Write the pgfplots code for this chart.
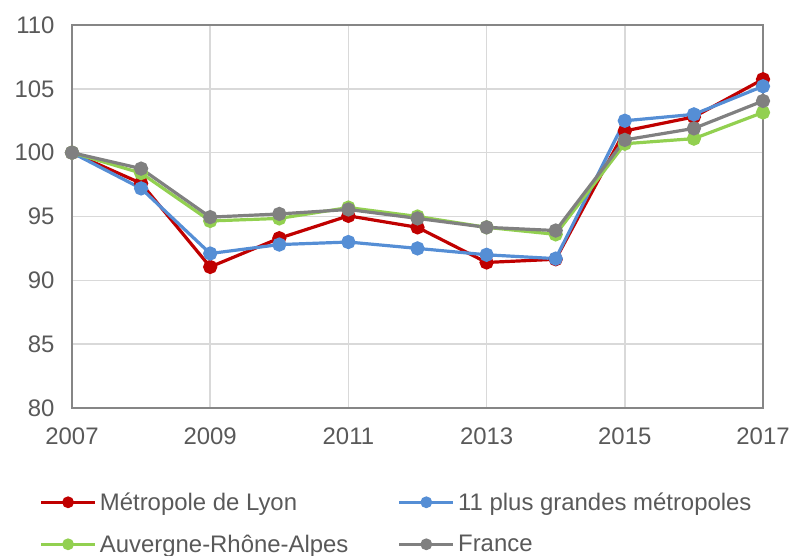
\documentclass[border=0pt]{standalone}
\usepackage{fontspec}
\setmainfont{Liberation Sans}
\usepackage{pgfplots}
\pgfplotsset{compat=1.18}
\definecolor{cred}{HTML}{C00000}
\definecolor{cblue}{HTML}{558ED5}
\definecolor{cgreen}{HTML}{92D050}
\definecolor{cgray}{HTML}{808080}
\definecolor{txt}{HTML}{595959}
\definecolor{gridc}{HTML}{D9D9D9}
\definecolor{axc}{HTML}{868686}
\begin{document}
\begin{tikzpicture}
\path[use as bounding box] (0,0) rectangle (793bp,556bp);
\begin{axis}[
  at={(72bp,148bp)}, anchor=south west,
  scale only axis, width=691bp, height=383bp,
  xmin=2007, xmax=2017, ymin=80, ymax=110,
  xtick={2007,2009,...,2017}, ytick={80,85,...,110},
  grid=major,
  major grid style={line width=1.5bp, draw=gridc},
  axis line style={line width=1.5bp, draw=axc},
  major tick length=0pt,
  tick label style={font=\fontsize{24}{29}\selectfont, text=txt},
  /pgf/number format/assume math mode=true,
  /pgf/number format/1000 sep={},
  xticklabel style={yshift=-16bp},
  yticklabel style={xshift=-14bp},
  legend columns=2,
  legend cell align=left,
  legend style={at={(-0.047,-0.2168)}, anchor=north west, draw=none, fill=none,
    inner sep=0pt, row sep=20bp,
    font=\fontsize{24}{29}\selectfont, text=txt,
    nodes={inner sep=1.5bp},
    /tikz/every even column/.append style={column sep=48bp},
    /tikz/every odd column/.append style={column sep=2bp}},
  legend image code/.code={\draw[mark repeat=2,mark phase=2,#1,line width=2.7bp,mark size=4.5bp] plot coordinates {(0bp,0bp)(27bp,0bp)(54bp,0bp)};},
  every axis plot/.append style={line width=3.2bp, mark=*, mark size=5.5bp, mark options={solid}},
]
\addplot[cred, mark options={fill=cred, draw=cred}] coordinates {
(2007,100) (2008,97.6) (2009,91.05) (2010,93.3) (2011,95.05) (2012,94.15) (2013,91.4) (2014,91.65) (2015,101.7) (2016,102.8) (2017,105.75)};
\addlegendentry{Métropole de Lyon}
\addplot[cblue, mark options={fill=cblue, draw=cblue}] coordinates {
(2007,100) (2008,97.2) (2009,92.1) (2010,92.8) (2011,93.0) (2012,92.5) (2013,92.0) (2014,91.7) (2015,102.5) (2016,103.0) (2017,105.2)};
\addlegendentry{11 plus grandes métropoles}
\addplot[cgreen, mark options={fill=cgreen, draw=cgreen}] coordinates {
(2007,100) (2008,98.4) (2009,94.65) (2010,94.85) (2011,95.7) (2012,95.0) (2013,94.15) (2014,93.6) (2015,100.7) (2016,101.1) (2017,103.15)};
\addlegendentry{Auvergne-Rhône-Alpes}
\addplot[cgray, mark options={fill=cgray, draw=cgray}] coordinates {
(2007,100) (2008,98.75) (2009,94.95) (2010,95.2) (2011,95.55) (2012,94.85) (2013,94.15) (2014,93.9) (2015,101.0) (2016,101.9) (2017,104.05)};
\addlegendentry{France}
\end{axis}
\end{tikzpicture}
\end{document}
